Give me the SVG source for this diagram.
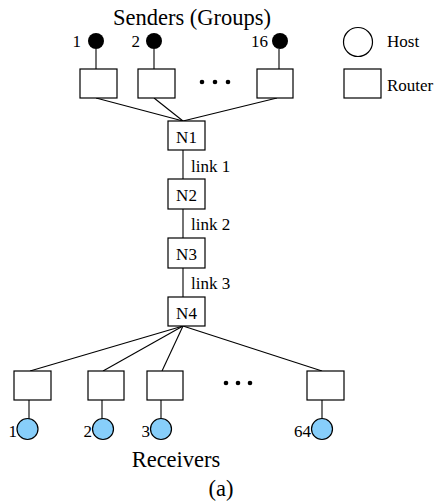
<svg xmlns="http://www.w3.org/2000/svg" width="437" height="503" viewBox="0 0 437 503">
  <style>
    text { font-family: "Liberation Serif", "Times New Roman", serif; fill: #000; }
    .big { font-size: 22.5px; }
    .lbl { font-size: 17px; }
    .router { fill: #fff; stroke: #000; stroke-width: 1.2; }
    .sender { fill: #000; }
    .receiver { fill: #87cefa; stroke: #000; stroke-width: 1.2; }
    .host { fill: #fff; stroke: #000; stroke-width: 1.2; }
    .edge { stroke: #000; stroke-width: 1.1; fill: none; }
    .dot { fill: #000; }
  </style>

  <rect width="437" height="503" fill="#fff"/>

  <text class="big" x="192" y="25" text-anchor="middle">Senders (Groups)</text>

  <!-- connectors -->
  <g id="connectors">
    <line class="edge" x1="96" y1="49" x2="96" y2="69"/>
    <line class="edge" x1="154" y1="49" x2="154" y2="69"/>
    <line class="edge" x1="279" y1="49" x2="279" y2="69"/>
    <line class="edge" x1="96" y1="98" x2="183" y2="121"/>
    <line class="edge" x1="154" y1="98" x2="183" y2="121"/>
    <line class="edge" x1="277" y1="98" x2="183" y2="121"/>
    <line class="edge" x1="183" y1="150" x2="183" y2="179"/>
    <line class="edge" x1="183" y1="209" x2="183" y2="238"/>
    <line class="edge" x1="183" y1="268" x2="183" y2="297"/>
    <line class="edge" x1="183" y1="326" x2="30" y2="371"/>
    <line class="edge" x1="183" y1="326" x2="103" y2="371"/>
    <line class="edge" x1="183" y1="326" x2="162" y2="371"/>
    <line class="edge" x1="183" y1="326" x2="322" y2="371"/>
    <line class="edge" x1="29" y1="400" x2="29" y2="419"/>
    <line class="edge" x1="102" y1="400" x2="102" y2="419"/>
    <line class="edge" x1="161" y1="400" x2="161" y2="419"/>
    <line class="edge" x1="322" y1="400" x2="322" y2="419"/>
    <text class="lbl" x="191" y="172">link 1</text>
    <text class="lbl" x="191" y="230">link 2</text>
    <text class="lbl" x="191" y="289">link 3</text>
  </g>

  <!-- senders -->
  <g id="sender1"><circle class="sender" cx="96" cy="41" r="8"/><text class="lbl" x="81" y="47" text-anchor="end">1</text></g>
  <g id="sender2"><circle class="sender" cx="154" cy="41" r="8"/><text class="lbl" x="140" y="47" text-anchor="end">2</text></g>
  <g id="sender16"><circle class="sender" cx="280" cy="41" r="8"/><text class="lbl" x="268" y="47" text-anchor="end">16</text></g>

  <!-- sender-side routers -->
  <g id="srouter1"><rect class="router" x="80" y="69" width="37" height="29"/></g>
  <g id="srouter2"><rect class="router" x="138" y="69" width="37" height="29"/></g>
  <g id="srouter16"><rect class="router" x="257" y="69" width="36" height="29"/></g>
  <g id="sdots"><circle class="dot" cx="202" cy="82" r="2.3"/><circle class="dot" cx="215" cy="82" r="2.3"/><circle class="dot" cx="228" cy="82" r="2.3"/></g>

  <!-- legend -->
  <g id="legend-host"><circle class="host" cx="358" cy="42" r="14.5"/><text class="lbl" x="387" y="47">Host</text></g>
  <g id="legend-router"><rect class="router" x="344" y="69" width="37" height="29"/><text class="lbl" x="387" y="91">Router</text></g>

  <!-- backbone -->
  <g id="N1"><rect class="router" x="168" y="121" width="37" height="29"/><text class="lbl" x="186.5" y="143" text-anchor="middle">N1</text></g>
  <g id="N2"><rect class="router" x="168" y="179" width="37" height="30"/><text class="lbl" x="186.5" y="201" text-anchor="middle">N2</text></g>
  <g id="N3"><rect class="router" x="168" y="238" width="37" height="30"/><text class="lbl" x="186.5" y="260" text-anchor="middle">N3</text></g>
  <g id="N4"><rect class="router" x="168" y="297" width="37" height="29"/><text class="lbl" x="186.5" y="319" text-anchor="middle">N4</text></g>

  <!-- receiver-side routers -->
  <g id="rrouter1"><rect class="router" x="14" y="371" width="37" height="29"/></g>
  <g id="rrouter2"><rect class="router" x="88" y="371" width="36" height="29"/></g>
  <g id="rrouter3"><rect class="router" x="147" y="371" width="36" height="29"/></g>
  <g id="rrouter64"><rect class="router" x="307" y="371" width="37" height="29"/></g>
  <g id="rdots"><circle class="dot" cx="226" cy="383" r="2.3"/><circle class="dot" cx="238" cy="383" r="2.3"/><circle class="dot" cx="250" cy="383" r="2.3"/></g>

  <!-- receivers -->
  <g id="receiver1"><circle class="receiver" cx="27.5" cy="429" r="10.5"/><text class="lbl" x="17" y="437" text-anchor="end">1</text></g>
  <g id="receiver2"><circle class="receiver" cx="103" cy="429" r="10.5"/><text class="lbl" x="92" y="437" text-anchor="end">2</text></g>
  <g id="receiver3"><circle class="receiver" cx="161" cy="429" r="10.5"/><text class="lbl" x="150" y="437" text-anchor="end">3</text></g>
  <g id="receiver64"><circle class="receiver" cx="322" cy="429" r="10.5"/><text class="lbl" x="311" y="437" text-anchor="end">64</text></g>

  <text class="big" x="176" y="467" text-anchor="middle">Receivers</text>
  <text class="big" x="221" y="496" text-anchor="middle">(a)</text>
</svg>
